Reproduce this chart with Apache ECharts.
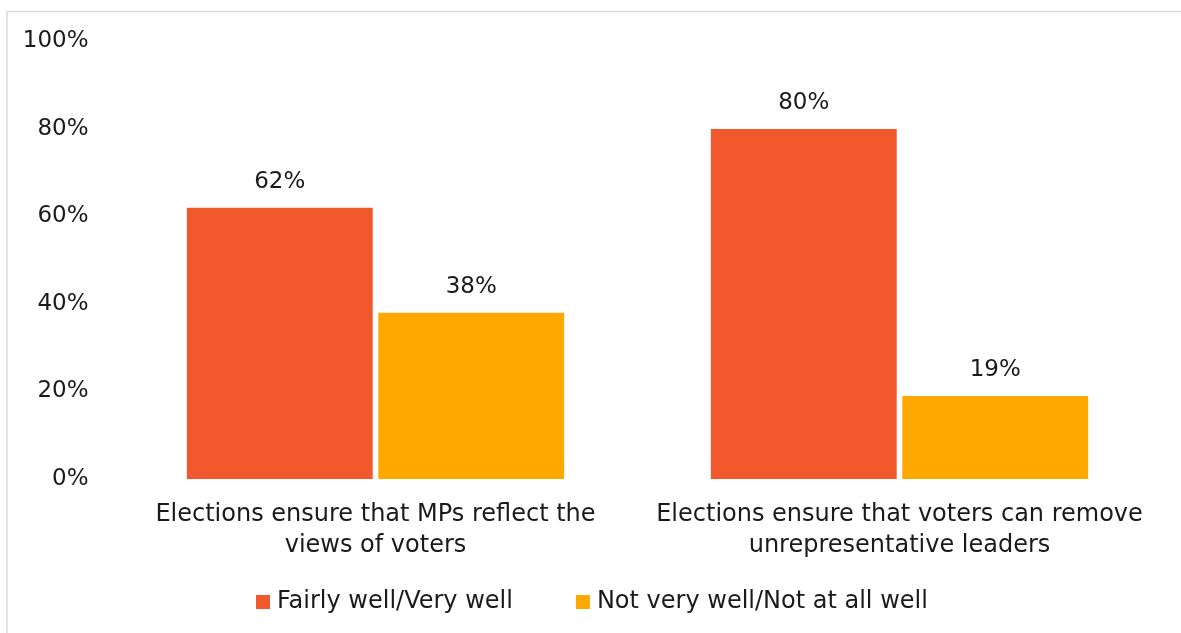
<!DOCTYPE html>
<html>
<head>
<meta charset="utf-8">
<script src="https://cdn.jsdelivr.net/npm/echarts@6/dist/echarts.min.js"></script>
<style>
  html, body { margin: 0; padding: 0; background: #ffffff; }
  #chart { width: 1181px; height: 633px; }
</style>
</head>
<body>
<div id="chart"></div>
<script>
// Survey statements (categories) and the share of answers per group
const categories = [
  'Elections ensure that MPs reflect the\nviews of voters',
  'Elections ensure that voters can remove\nunrepresentative leaders'
];
const fairlyWell = [62, 80];
const notWell = [38, 19];
const seriesNames = ['Fairly well/Very well', 'Not very well/Not at all well'];
const yTicks = [0, 20, 40, 60, 80, 100];

const FONT = '"DejaVu Sans", sans-serif';
const TEXT = '#1a1a1a';
const chart = echarts.init(document.getElementById('chart'));

const labelStyle = {
  show: true,
  position: 'top',
  distance: 14,
  formatter: p => p.value + '%',
  color: TEXT,
  fontSize: 23,
  fontFamily: FONT
};

chart.setOption({
  animation: false,
  backgroundColor: '#ffffff',
  graphic: [{
    type: 'rect',
    shape: { x: 7, y: 11.5, width: 1300, height: 800 },
    style: { fill: 'none', stroke: '#d9d9d9', lineWidth: 1.5 },
    silent: true,
    z: -1
  }],
  grid: { left: 113.5, right: 19.5, top: 41.5, bottom: 154, containLabel: false },
  legend: {
    left: 251,
    top: 585,
    itemWidth: 14,
    itemHeight: 14,
    itemGap: 63,
    icon: 'rect',
    textStyle: { color: TEXT, fontSize: 24, fontFamily: FONT, padding: [0, 0, 0, 2] },
    data: seriesNames
  },
  xAxis: {
    type: 'category',
    data: categories,
    axisLine: { show: false },
    axisTick: { show: false },
    axisLabel: {
      color: TEXT,
      fontSize: 24,
      fontFamily: FONT,
      lineHeight: 31,
      margin: 20,
      interval: 0
    }
  },
  yAxis: {
    type: 'value',
    min: 0,
    max: 100,
    interval: 20,
    splitLine: { show: false },
    axisLine: { show: false },
    axisTick: { show: false },
    axisLabel: {
      color: TEXT,
      fontSize: 23,
      fontFamily: FONT,
      margin: 25,
      formatter: v => (yTicks.includes(v) ? v + '%' : '')
    }
  },
  series: [
    {
      name: seriesNames[0],
      type: 'bar',
      data: fairlyWell,
      barGap: '3%',
      barCategoryGap: '28%',
      itemStyle: { color: '#F1582B' },
      label: labelStyle
    },
    {
      name: seriesNames[1],
      type: 'bar',
      data: notWell,
      itemStyle: { color: '#FFA800' },
      label: labelStyle
    }
  ]
});
</script>
</body>
</html>
